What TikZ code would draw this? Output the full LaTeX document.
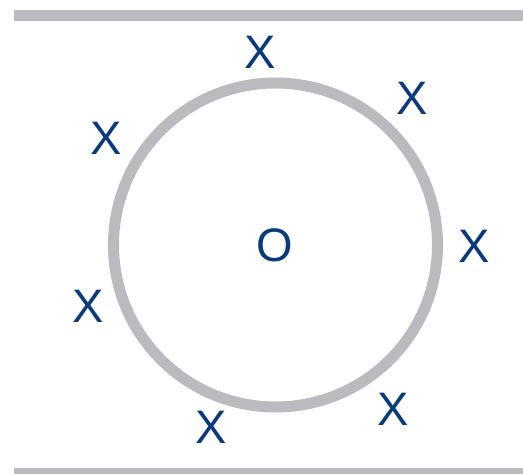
\documentclass[tikz,border=0pt]{standalone}
\usepackage{fontspec}
\setmainfont{Liberation Sans}
\definecolor{lgray}{HTML}{BBBBBF}
\definecolor{dblue}{HTML}{0B3A7A}
\begin{document}
\begin{tikzpicture}[x=1pt,y=1pt,
  rail/.style={draw=lgray,line width=11pt},
  ring/.style={draw=lgray,line width=11pt},
  lbl/.style={text=dblue,font=\fontsize{47}{47}\selectfont,inner sep=0pt,anchor=center}]
\useasboundingbox (0,0) rectangle (523,474);
\begin{scope}
\clip (0,0) rectangle (523,474);
\coordinate (t1) at (14,458.5);
\coordinate (t2) at (523,458.5);
\coordinate (b1) at (14,0.5);
\coordinate (b2) at (523,0.5);
\draw[rail] (t1) -- (t2);
\draw[rail] (b1) -- (b2);
\end{scope}
\coordinate (c) at (275.5,229);
\draw[ring] (c) circle[radius=162];
\node[lbl] (o) at (275,229) {O};
\node[lbl] (x1) at (260,422) {X};
\node[lbl] (x2) at (412,376) {X};
\node[lbl] (x3) at (106,336) {X};
\node[lbl] (x4) at (474,228) {X};
\node[lbl] (x5) at (88,168) {X};
\node[lbl] (x6) at (211,47) {X};
\node[lbl] (x7) at (393,65) {X};
\end{tikzpicture}
\end{document}
